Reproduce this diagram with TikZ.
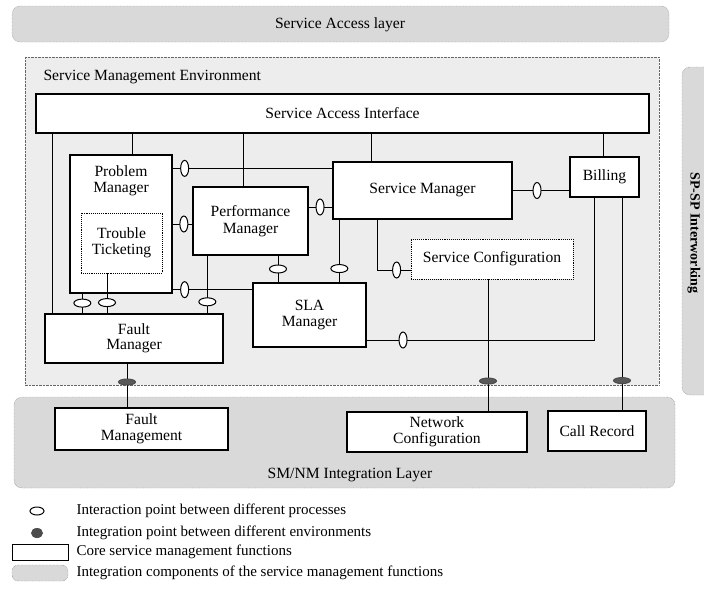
\documentclass[tikz,border=0pt]{standalone}
\usepackage{fontspec}
\setmainfont{Liberation Serif}
\usepackage{tikz}
\usetikzlibrary{shapes.geometric, calc}
\definecolor{layergray}{rgb}{0.85, 0.85, 0.85}
\definecolor{envgray}{rgb}{0.93, 0.93, 0.93}
\definecolor{dotgray}{rgb}{0.40, 0.40, 0.40}

\begin{document}
\begin{tikzpicture}[x=1pt, y=-1pt,
    core/.style={draw, fill=white, line width=1.3pt, inner sep=0pt, align=center, font=\fontsize{15.6}{16.5}\selectfont},
    inner/.style={draw, densely dotted, fill=white, line width=0.9pt, inner sep=0pt, align=center, font=\fontsize{15.6}{16.5}\selectfont},
    tight/.style={font=\fontsize{15.6}{15.5}\selectfont},
    link/.style={line width=1pt},
    hpt/.style={ellipse, draw, fill=white, line width=1pt, minimum width=8pt, minimum height=16pt, inner sep=0pt},
    vpt/.style={ellipse, draw, fill=white, line width=1pt, minimum width=17pt, minimum height=8pt, inner sep=0pt},
    gpt/.style={ellipse, draw=black!70, fill=black!65, minimum width=17pt, minimum height=6pt, inner sep=0pt},
    layer/.style={draw=dotgray, densely dotted, fill=layergray, rounded corners=8pt},
    envbox/.style={draw=dotgray, densely dotted, fill=envgray},
    txt/.style={font=\fontsize{15.6}{16.5}\selectfont},
    keytxt/.style={anchor=west, font=\fontsize{15}{16}\selectfont}
  ]
        \path[fill=white, use as bounding box] (0,0) rectangle (704,590);

        % Layers
        \draw[layer] (12,6) rectangle (669,42);
        \node[txt] (saltext) at (340,25) {Service Access layer};
        \draw[envbox] (25,57) rectangle (659,385);
        \node[txt, anchor=west] (smetext) at (40,77) {Service Management Environment};
        \draw[layer] (682,67) rectangle (720,395);
        \node[font=\fontsize{14}{15}\selectfont\bfseries, rotate=-90] (spsptext) at (694,233) {SP-SP Interworking};
        \draw[layer] (14,397) rectangle (675,488);
        \node[txt] (smnmtext) at (350,475) {SM/NM Integration Layer};

        % Core functions
        \node[core, minimum width=613pt, minimum height=39pt] (sai) at (342.5,113.5) {Service Access Interface};
        \node[core, minimum width=102pt, minimum height=138pt] (pm) at (121,224) {};
        \node[txt, align=center] (pmtext) at (121,181) {Problem\\Manager};
        \node[inner, minimum width=81pt, minimum height=60pt] (tt) at (121.5,243) {Trouble\\Ticketing};
        \node[core, minimum width=115pt, minimum height=68pt] (perf) at (250.5,221) {Performance\\Manager};
        \node[core, minimum width=179pt, minimum height=57pt] (sm) at (422.5,190.5) {Service Manager};
        \node[core, minimum width=69pt, minimum height=40pt] (bill) at (604.5,177) {Billing};
        \node[inner, minimum width=162pt, minimum height=40pt] (sc) at (492,259) {Service Configuration};
        \node[core, minimum width=113pt, minimum height=64pt] (sla) at (309.5,315) {SLA\\Manager};
        \node[core, tight, minimum width=178pt, minimum height=49pt] (fm) at (134,338.5) {Fault\\Manager};
        \node[core, tight, minimum width=173pt, minimum height=42pt] (fmg) at (141.5,429) {Fault\\Management};
        \node[core, tight, minimum width=180pt, minimum height=40pt] (nc) at (437,432) {Network\\Configuration};
        \node[core, minimum width=98pt, minimum height=40pt] (cr) at (597,431) {Call Record};

        % Links to the access interface
        \draw[link] ([xshift=11pt]pm.north) coordinate (a1) -- (a1 |- sai.south);
        \draw[link] ([xshift=-7.5pt]perf.north) coordinate (a2) -- (a2 |- sai.south);
        \draw[link] ([xshift=-51.5pt]sm.north) coordinate (a3) -- (a3 |- sai.south);
        \draw[link] ([xshift=-1.5pt]bill.north) coordinate (a4) -- (a4 |- sai.south);
        \draw[link] ([xshift=8pt]fm.north west) coordinate (a5) -- (a5 |- sai.south);

        % Interaction points
        \draw[link] ([yshift=-14pt]pm.north east) coordinate (b1) -- ++(12,0) node[hpt] (i1) {} -- (b1 -| sm.west);
        \draw[link] (pm.east) -- (pm.east -| perf.west) node[hpt, pos=0.57] (i2) {};
        \draw[link] ([yshift=14pt]perf.east) coordinate (b3) -- (b3 -| sm.west) node[hpt, pos=0.48] (i3) {};
        \draw[link] ([yshift=4pt]pm.south east) coordinate (b4) -- ++(12,0) node[hpt] (i4) {} -- (b4 -| sla.west);
        \draw[link] ([xshift=13pt]pm.south west) coordinate (b5) -- (b5 |- fm.north) node[vpt, pos=0.48] (i5) {};
        \draw[link] ([xshift=-14.5pt]tt.south) coordinate (b6) -- (b6 |- fm.north) node[vpt, pos=0.73] (i6) {};
        \draw[link] ([xshift=15pt]perf.south west) coordinate (b7) -- (b7 |- fm.north) node[vpt, pos=0.8] (i7) {};
        \draw[link] ([xshift=27.5pt]perf.south) coordinate (b8) -- (b8 |- sla.north) node[vpt, pos=0.5] (i8) {};
        \draw[link] ([xshift=7pt]sm.south west) coordinate (b9) -- (b9 |- sla.north) node[vpt, pos=0.78] (i9) {};
        \draw[link] (sm.east) -- (sm.east -| bill.west) node[hpt, pos=0.43] (i10) {};
        \draw[link] ([xshift=45pt]sm.south west) |- ([yshift=-11pt]sc.west) node[hpt, pos=0.79] (i11) {};
        \draw[link] ([xshift=-10.5pt]bill.south) |- ([yshift=-25pt]sla.east) node[hpt, pos=0.92] (i12) {};

        % Integration points
        \draw[link] ([xshift=-7pt]fm.south) coordinate (c1) -- (c1 |- fmg.north) node[gpt, pos=0.42] (g1) {};
        \draw[link] ([xshift=-4pt]sc.south) coordinate (c2) -- (c2 |- nc.north) node[gpt, pos=0.77] (g2) {};
        \draw[link] ([xshift=17.5pt]bill.south) coordinate (c3) -- (c3 |- cr.north) node[gpt, pos=0.86] (g3) {};

        % Legend
        \node[ellipse, draw, line width=1pt, minimum width=14pt, minimum height=8pt, inner sep=0pt] (k1) at (37,511) {};
        \node[keytxt] (k1text) at (73,511) {Interaction point between different processes};
        \node[ellipse, fill=black!70, minimum width=12pt, minimum height=10pt, inner sep=0pt] (k2) at (37,533) {};
        \node[keytxt] (k2text) at (73,533) {Integration point between different environments};
        \node[draw, line width=1pt, minimum width=56pt, minimum height=16pt, inner sep=0pt] (k3) at (40,552) {};
        \node[keytxt] (k3text) at (73,552) {Core service management functions};
        \node[draw=dotgray, densely dotted, fill=layergray, rounded corners=6pt, minimum width=56pt, minimum height=16pt, inner sep=0pt] (k4) at (40,573) {};
        \node[keytxt] (k4text) at (73,573) {Integration components of the service management functions};
    \end{tikzpicture}
\end{document}
